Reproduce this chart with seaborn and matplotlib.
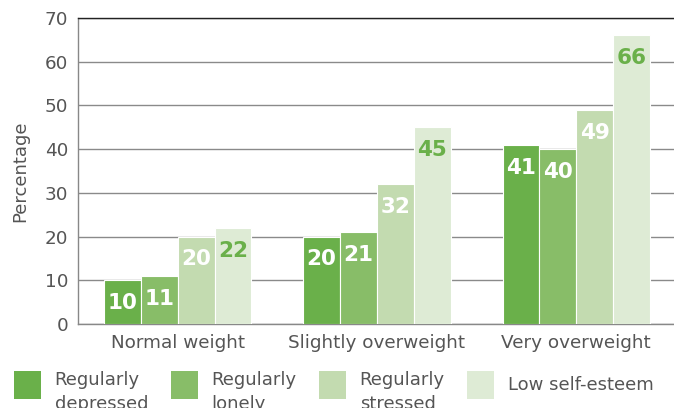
import pandas as pd
import numpy as np
import matplotlib
matplotlib.use('Agg')
import matplotlib.pyplot as plt
import seaborn as sns
from matplotlib.patches import Patch, Rectangle
from matplotlib.legend_handler import HandlerPatch

# data
weight_groups = ['Normal weight', 'Slightly overweight', 'Very overweight']
measures = ['Regularly\ndepressed', 'Regularly\nlonely', 'Regularly\nstressed', 'Low self-esteem']
depressed = [10, 20, 41]
lonely = [11, 21, 40]
stressed = [20, 32, 49]
low_esteem = [22, 45, 66]

colors = ['#6ab04a', '#88bd68', '#c3dbb0', '#deebd5']
label_colors = ['white', 'white', 'white', '#6ab04a']
text_grey = '#555555'

df = pd.DataFrame({
    'group': weight_groups * 4,
    'measure': np.repeat(measures, 3),
    'value': depressed + lonely + stressed + low_esteem,
})

sns.set_style('white')
plt.rcParams['font.family'] = ['DejaVu Sans']

fig = plt.figure(figsize=(6.74, 4.08), dpi=100)
ax = fig.add_axes([78 / 674, 1 - 324 / 408, 598 / 674, 306 / 408])

sns.barplot(data=df, x='group', y='value', hue='measure', palette=colors,
            width=0.74, edgecolor='white', linewidth=0.8, saturation=1,
            legend=False, ax=ax, zorder=3)

# value labels inside the top of each bar
for cont, lc in zip(ax.containers, label_colors):
    for bar in cont:
        h = bar.get_height()
        ax.annotate(f'{h:.0f}', (bar.get_x() + bar.get_width() / 2, h),
                    xytext=(0, -16.5), textcoords='offset points',
                    ha='center', va='center', color=lc,
                    fontsize=15.5, fontweight='bold', zorder=4)

ax.set_ylim(0, 70)
ax.set_xlim(-0.5, 2.5)
ax.set_yticks(range(0, 71, 10))
ax.yaxis.grid(True, color='#8a8a8a', linewidth=1, zorder=0)
ax.set_axisbelow(True)

ax.set_xlabel('')
ax.set_ylabel('Percentage', fontsize=13, color=text_grey, labelpad=11)
ax.tick_params(axis='both', labelsize=13.2, labelcolor=text_grey, length=0)
ax.tick_params(axis='y', pad=7)
ax.tick_params(axis='x', pad=7)
ax.set_xticks([0.5, 1.5], minor=True)
ax.tick_params(axis='x', which='minor', direction='in', length=6, color='#888888', width=1)

for side in ['left', 'bottom']:
    ax.spines[side].set_color('#888888')
    ax.spines[side].set_linewidth(1)
ax.spines['top'].set_color('#222222')
ax.spines['top'].set_linewidth(1)
ax.spines['right'].set_visible(False)


# legend squares sit a bit higher than the centre of the two-line labels
def square(legend, orig_handle, xdescent, ydescent, width, height, fontsize):
    box_h = 20.2
    y0 = -ydescent + (height - box_h) / 2 + 5.8
    return Rectangle((-xdescent, y0), width, box_h)


handles = [Patch(facecolor=c, edgecolor='none') for c in colors]
leg = fig.legend(handles, measures, loc='upper left', ncol=4,
                 bbox_to_anchor=(14 / 674, 1 - 371 / 408), frameon=False,
                 fontsize=13, labelcolor=text_grey, handlelength=1.5,
                 handleheight=1.85, handletextpad=0.75, columnspacing=1.25,
                 borderpad=0, borderaxespad=0,
                 handler_map={Patch: HandlerPatch(patch_func=square)})
for t in leg.get_texts():
    t.set_linespacing(1.45)
# single-line label lines up with the squares
leg.get_texts()[-1].set_y(9)

fig.savefig('out.png', dpi=100)
